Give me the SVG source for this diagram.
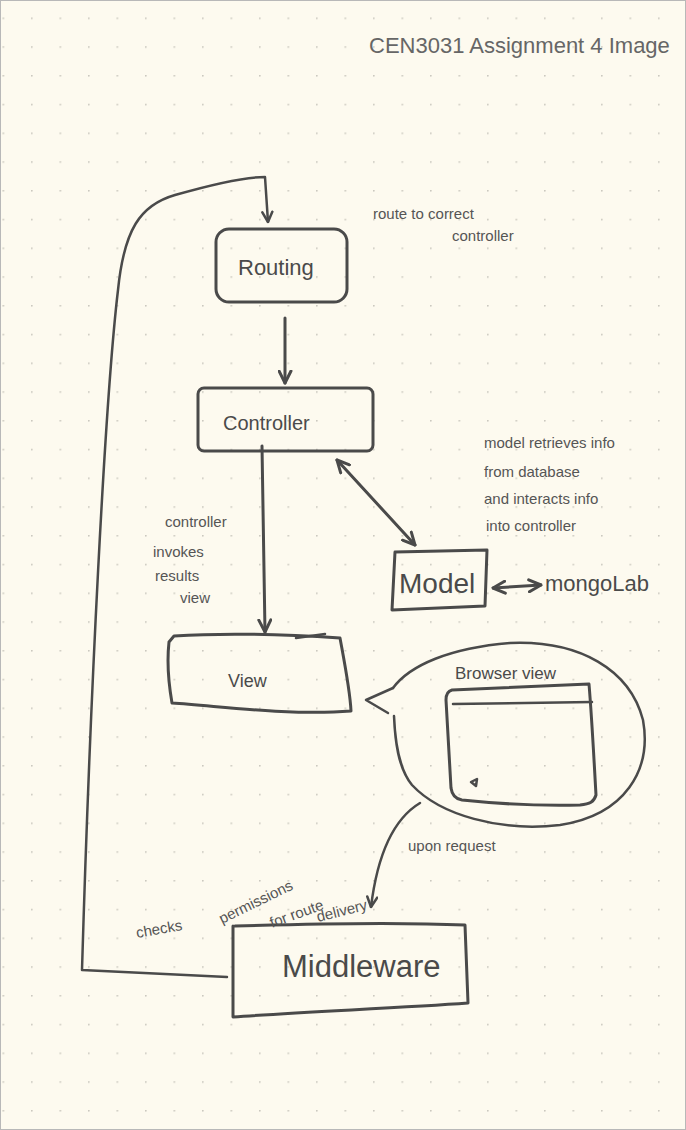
<svg xmlns="http://www.w3.org/2000/svg" width="686" height="1130" viewBox="0 0 686 1130">
<defs>
<pattern id="dots" x="2.5" y="17.5" width="28.5" height="28.75" patternUnits="userSpaceOnUse">
<circle cx="0.8" cy="0.8" r="0.9" fill="#c9c7bd"/>
</pattern>
<marker id="arr" viewBox="0 0 10 10" refX="9" refY="5" markerWidth="5" markerHeight="5" orient="auto-start-reverse">
<path d="M1,1 L9,5 L1,9" fill="none" stroke="#4a4a4a" stroke-width="2" stroke-linecap="round" stroke-linejoin="round"/>
</marker>
</defs>
<style>
.ink{fill:none;stroke:#4a4a4a;stroke-width:3;stroke-linecap:round;stroke-linejoin:round}
.thin{fill:none;stroke:#4a4a4a;stroke-width:2.5;stroke-linecap:round;stroke-linejoin:round}
.lbl{font-family:"Liberation Sans",Arial,sans-serif;fill:#4a4a4a}
.note{font-family:"Liberation Sans",Arial,sans-serif;fill:#555;font-size:15px}
</style>
<rect x="0" y="0" width="686" height="1130" fill="#fdfaef"/>
<rect x="0" y="0" width="686" height="1130" fill="url(#dots)"/>
<rect x="0.5" y="0.5" width="685" height="1129" fill="none" stroke="#b8b8b8" stroke-width="1"/>

<text class="lbl" x="369" y="53" font-size="22" style="fill:#666">CEN3031 Assignment 4 Image</text>

<g id="connectors">
<path class="thin" d="M227,977 L82,970 C90,700 105,400 118,290 C124,230 140,205 175,195 C210,185 245,177 265,177 L268,222" marker-end="url(#arr)"/>
<path class="ink" d="M285,318 L285,383" marker-end="url(#arr)"/>
<path class="ink" d="M262,446 L265,632" marker-end="url(#arr)"/>
<path class="ink" d="M337,460 L415,545" marker-start="url(#arr)" marker-end="url(#arr)"/>
<path class="ink" d="M493,588 L541,585" marker-start="url(#arr)" marker-end="url(#arr)"/>
<path class="thin" d="M420,803 C395,818 378,850 371,907" marker-end="url(#arr)"/>
</g>

<g id="routing">
<rect class="ink" x="216" y="229" width="131" height="73" rx="13"/>
<text class="lbl" x="238" y="275" font-size="22">Routing</text>
</g>

<g id="controller">
<rect class="ink" x="198" y="388" width="175" height="63" rx="6"/>
<text class="lbl" x="223" y="430" font-size="20">Controller</text>
</g>

<g id="view">
<path class="ink" d="M174,636 C220,633 280,634 340,638 C344,660 350,690 351,711 C290,716 220,706 172,703 C168,680 167,660 169,642 Z"/>
<path class="thin" d="M296,638 L325,634"/>
<text class="lbl" x="228" y="687" font-size="18">View</text>
</g>

<g id="model">
<path class="ink" d="M395,552 L487,550 L485,606 L392,610 Z"/>
<text class="lbl" x="399" y="593" font-size="28">Model</text>
</g>

<g id="mongolab">
<text class="lbl" x="545" y="591" font-size="22">mongoLab</text>
</g>

<g id="browser-view">
<path class="thin" d="M393,688 C410,665 450,648 510,643 C580,640 630,670 643,720 C652,770 625,815 560,825 C500,832 440,815 412,785 C398,768 395,740 394,716"/>
<path class="thin" d="M393,688 L366,700 L388,713"/>
<path class="ink" d="M452,690 L589,684 C592,720 594,760 596,795 C594,802 590,804 580,805 C540,806 500,804 462,800 C455,799 452,795 451,788 L446,700 C446,694 448,691 452,690 Z"/>
<path class="thin" d="M453,704 L592,702"/>
<path class="thin" d="M471,782 L477,779 L476,786 Z"/>
<text class="lbl" x="455" y="679" font-size="17">Browser view</text>
</g>

<g id="middleware">
<path class="ink" d="M235,926 C300,924 400,922 465,925 L468,1003 C400,1008 300,1012 233,1017 L233,926"/>
<text class="lbl" x="282" y="977" font-size="31">Middleware</text>
</g>

<g id="notes">
<text class="note" x="373" y="219">route to correct</text>
<text class="note" x="452" y="241">controller</text>
<text class="note" x="484" y="448">model retrieves info</text>
<text class="note" x="484" y="477">from database</text>
<text class="note" x="484" y="504">and interacts info</text>
<text class="note" x="486" y="531">into controller</text>
<text class="note" x="165" y="527" font-size="14">controller</text>
<text class="note" x="153" y="557" font-size="14">invokes</text>
<text class="note" x="155" y="581" font-size="14">results</text>
<text class="note" x="180" y="603" font-size="14">view</text>
<text class="note" x="408" y="851">upon request</text>
<text class="note" x="137" y="938" font-size="16" transform="rotate(-10 137 938)">checks</text>
<text class="note" x="222" y="924" font-size="16" transform="rotate(-26 222 924)">permissions</text>
<text class="note" x="272" y="928" font-size="14" transform="rotate(-20 272 928)">for route</text>
<text class="note" x="318" y="922" font-size="14" transform="rotate(-14 318 922)">delivery</text>
</g>
</svg>
